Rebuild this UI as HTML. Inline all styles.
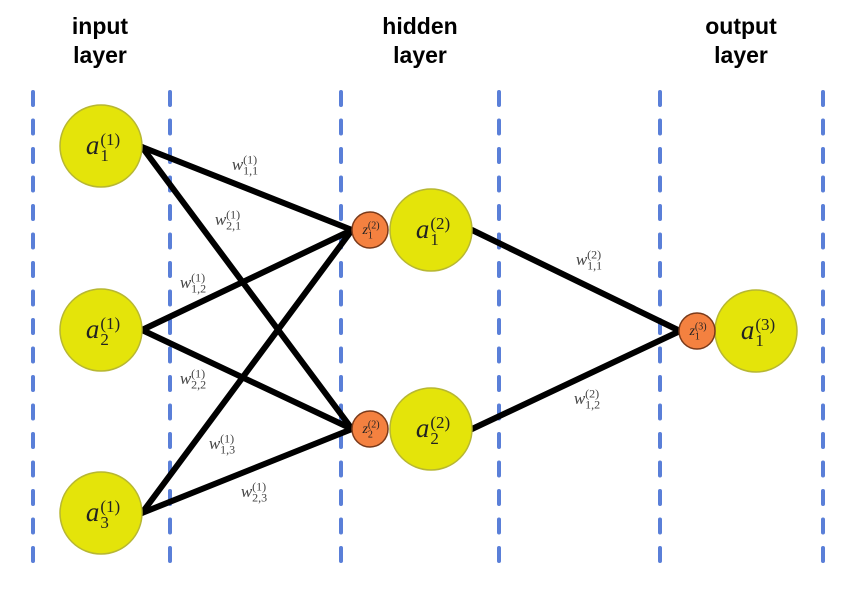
<!DOCTYPE html>
<html><head><meta charset="utf-8"><style>
html,body{margin:0;padding:0;background:#fff;}
#c{position:relative;width:855px;height:604px;overflow:hidden;font-family:"Liberation Serif",serif;}
svg{position:absolute;left:0;top:0;}
.t{position:absolute;font-family:"Liberation Sans",sans-serif;font-weight:bold;font-size:23px;line-height:29px;text-align:center;width:160px;color:#000;}
.m{position:absolute;white-space:nowrap;font-style:italic;color:#222;transform:translate(-50%,-50%);}
.m .s{display:inline-block;vertical-align:middle;font-style:normal;line-height:0.95;text-align:left;}
.m .s span{display:block;}
.big{font-size:27px;}
.big .s{font-size:17px;margin-left:1px;}
.sm{font-size:14px;}
.sm .s{font-size:10px;}
.w{font-size:17px;color:#444;}
.w .s{font-size:12px;}
</style></head><body><div id="c">
<svg width="855" height="604">
<g stroke="#5a7fd8" stroke-width="4" stroke-dasharray="13 15.5" stroke-linecap="round">
<line x1="33" y1="92" x2="33" y2="572"/>
<line x1="170" y1="92" x2="170" y2="572"/>
<line x1="341" y1="92" x2="341" y2="572"/>
<line x1="499" y1="92" x2="499" y2="572"/>
<line x1="660" y1="92" x2="660" y2="572"/>
<line x1="823" y1="92" x2="823" y2="572"/>
</g>
<g stroke="#000" stroke-width="6" stroke-linecap="round">
<line x1="142" y1="147" x2="352" y2="230"/>
<line x1="142" y1="147" x2="352" y2="429"/>
<line x1="142" y1="330" x2="352" y2="230"/>
<line x1="142" y1="330" x2="352" y2="429"/>
<line x1="142" y1="513" x2="352" y2="230"/>
<line x1="142" y1="513" x2="352" y2="429"/>
<line x1="472" y1="230" x2="680" y2="331"/>
<line x1="472" y1="429" x2="680" y2="331"/>
</g>
<g fill="#e4e40a" stroke="#b7b732" stroke-width="1.5">
<circle cx="101" cy="146" r="41"/>
<circle cx="101" cy="330" r="41"/>
<circle cx="101" cy="513" r="41"/>
<circle cx="431" cy="230" r="41"/>
<circle cx="431" cy="429" r="41"/>
<circle cx="756" cy="331" r="41"/>
</g>
<g fill="#f48140" stroke="#7a3a1a" stroke-width="1.5">
<circle cx="370" cy="230" r="18"/>
<circle cx="370" cy="429" r="18"/>
<circle cx="697" cy="331" r="18"/>
</g>
</svg>
<div class="t" style="left:20px;top:12px">input<br>layer</div>
<div class="t" style="left:340px;top:12px">hidden<br>layer</div>
<div class="t" style="left:661px;top:12px">output<br>layer</div>

<div class="m big" style="left:103px;top:147px">a<span class="s"><span>(1)</span><span>1</span></span></div>
<div class="m big" style="left:103px;top:331px">a<span class="s"><span>(1)</span><span>2</span></span></div>
<div class="m big" style="left:103px;top:514px">a<span class="s"><span>(1)</span><span>3</span></span></div>
<div class="m big" style="left:433px;top:231px">a<span class="s"><span>(2)</span><span>1</span></span></div>
<div class="m big" style="left:433px;top:430px">a<span class="s"><span>(2)</span><span>2</span></span></div>
<div class="m big" style="left:758px;top:332px">a<span class="s"><span>(3)</span><span>1</span></span></div>

<div class="m sm" style="left:371px;top:231px">z<span class="s"><span>(2)</span><span>1</span></span></div>
<div class="m sm" style="left:371px;top:430px">z<span class="s"><span>(2)</span><span>2</span></span></div>
<div class="m sm" style="left:698px;top:332px">z<span class="s"><span>(3)</span><span>1</span></span></div>

<div class="m w" style="left:245px;top:166px">w<span class="s"><span>(1)</span><span>1,1</span></span></div>
<div class="m w" style="left:228px;top:221px">w<span class="s"><span>(1)</span><span>2,1</span></span></div>
<div class="m w" style="left:193px;top:284px">w<span class="s"><span>(1)</span><span>1,2</span></span></div>
<div class="m w" style="left:193px;top:380px">w<span class="s"><span>(1)</span><span>2,2</span></span></div>
<div class="m w" style="left:222px;top:445px">w<span class="s"><span>(1)</span><span>1,3</span></span></div>
<div class="m w" style="left:254px;top:493px">w<span class="s"><span>(1)</span><span>2,3</span></span></div>
<div class="m w" style="left:589px;top:261px">w<span class="s"><span>(2)</span><span>1,1</span></span></div>
<div class="m w" style="left:587px;top:400px">w<span class="s"><span>(2)</span><span>1,2</span></span></div>
</div></body></html>
